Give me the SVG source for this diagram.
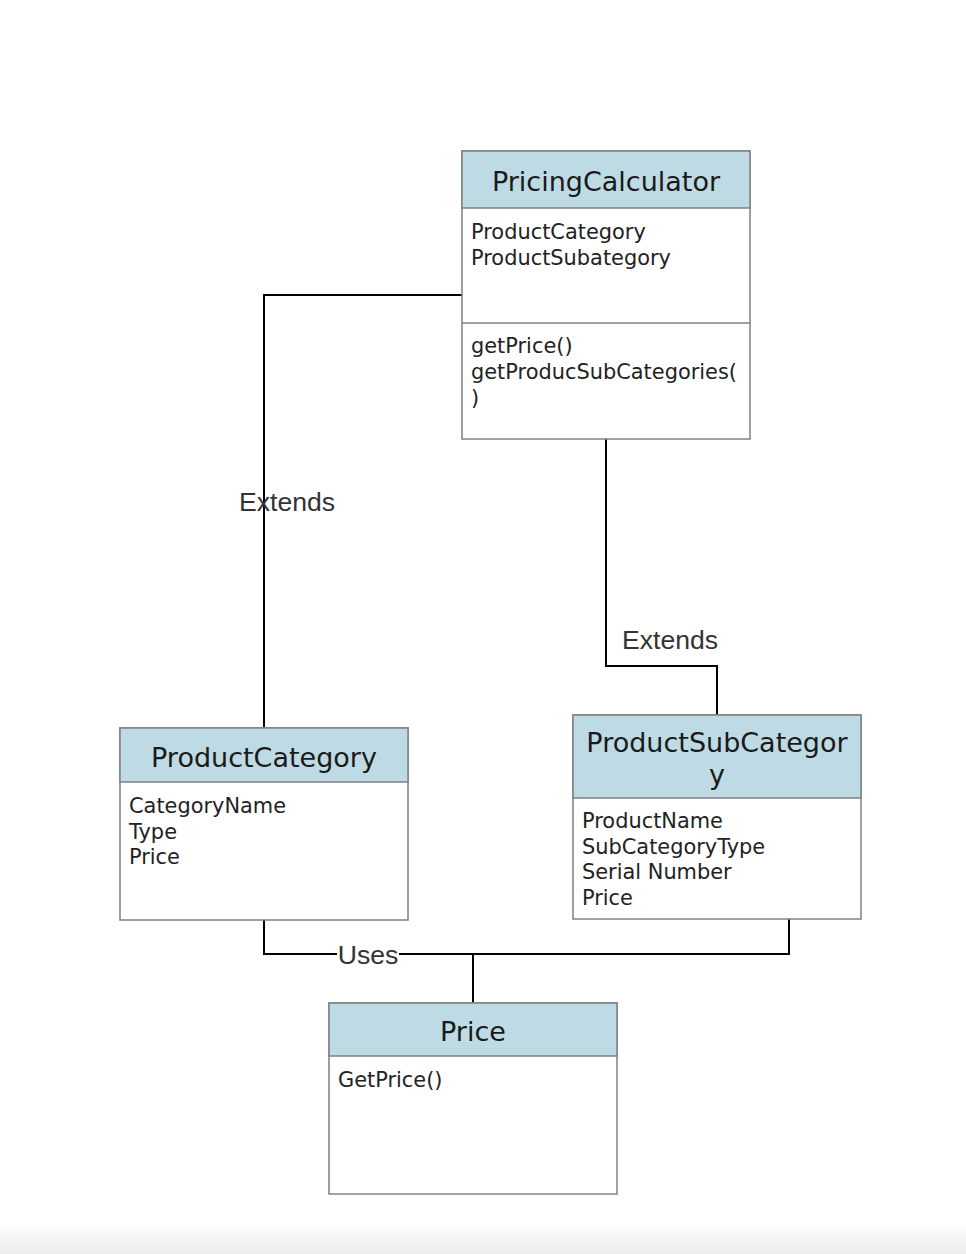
<svg xmlns="http://www.w3.org/2000/svg" width="966" height="1254" viewBox="0 0 966 1254">
<defs>
<linearGradient id="bottomShade" x1="0" y1="0" x2="0" y2="1">
<stop offset="0" stop-color="#ffffff"/>
<stop offset="1" stop-color="#ececec"/>
</linearGradient>
</defs>
<style>
.box{fill:#ffffff;stroke:#808080;stroke-width:1.5}
.head{fill:#bedbe5;stroke:#808080;stroke-width:1.5}
.div{stroke:#808080;stroke-width:1.5}
.title{font-family:"DejaVu Sans",Verdana,sans-serif;font-size:27px;fill:#1a1a1a;text-anchor:middle}
.body{font-family:"DejaVu Sans",Verdana,sans-serif;font-size:20.9px;fill:#222222}
.conn{fill:none;stroke:#000000;stroke-width:2}
.lbl{font-family:"Liberation Sans",Arial,sans-serif;font-size:26.6px;fill:#333333;text-anchor:middle}
</style>
<rect x="0" y="0" width="966" height="1254" fill="#ffffff"/>
<rect x="0" y="1222" width="966" height="32" fill="url(#bottomShade)"/>

<g id="connectors">
<polyline class="conn" points="462,295 264,295 264,728"/>
<polyline class="conn" points="606,439 606,666 717,666 717,715"/>
<polyline class="conn" points="264,920 264,954 789,954 789,919"/>
<line class="conn" x1="473" y1="954" x2="473" y2="1003"/>
<text class="lbl" x="287" y="511">Extends</text>
<text class="lbl" x="670" y="649">Extends</text>
<rect x="337" y="940" width="62" height="28" fill="#ffffff"/>
<text class="lbl" x="368" y="964">Uses</text>
</g>

<g id="PricingCalculator">
<rect class="box" x="462" y="151" width="288" height="288"/>
<rect class="head" x="462" y="151" width="288" height="57"/>
<line class="div" x1="462" y1="323" x2="750" y2="323"/>
<text class="title" x="606" y="191">PricingCalculator</text>
<text class="body" x="471" y="239">ProductCategory</text>
<text class="body" x="471" y="265">ProductSubategory</text>
<text class="body" x="471" y="353">getPrice()</text>
<text class="body" x="471" y="379">getProducSubCategories(</text>
<text class="body" x="471" y="405">)</text>
</g>

<g id="ProductCategory">
<rect class="box" x="120" y="728" width="288" height="192"/>
<rect class="head" x="120" y="728" width="288" height="54"/>
<text class="title" x="264" y="767">ProductCategory</text>
<text class="body" x="129" y="813">CategoryName</text>
<text class="body" x="129" y="839">Type</text>
<text class="body" x="129" y="864">Price</text>
</g>

<g id="ProductSubCategory">
<rect class="box" x="573" y="715" width="288" height="204"/>
<rect class="head" x="573" y="715" width="288" height="83"/>
<text class="title" x="717" y="752">ProductSubCategor</text>
<text class="title" x="717" y="784">y</text>
<text class="body" x="582" y="828">ProductName</text>
<text class="body" x="582" y="854">SubCategoryType</text>
<text class="body" x="582" y="879">Serial Number</text>
<text class="body" x="582" y="905">Price</text>
</g>

<g id="Price">
<rect class="box" x="329" y="1003" width="288" height="191"/>
<rect class="head" x="329" y="1003" width="288" height="53"/>
<text class="title" x="473" y="1041">Price</text>
<text class="body" x="338" y="1087">GetPrice()</text>
</g>
</svg>
